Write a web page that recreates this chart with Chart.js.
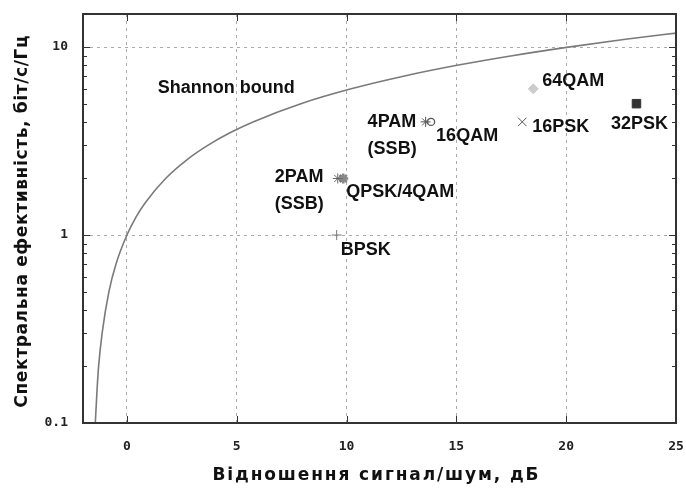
<!DOCTYPE html>
<html>
<head>
<meta charset="utf-8">
<script src="https://cdn.jsdelivr.net/npm/chart.js@4/dist/chart.umd.min.js"></script>
<style>
  html, body { margin: 0; padding: 0; background: #fff; }
  #wrap { width: 686px; height: 488px; }
</style>
</head>
<body>
<div id="wrap"><canvas id="c" width="686" height="488"></canvas></div>
<script>
// ---- data ----
const shannonDb  = [-1.44, -1.36, -1.29, -1.13, -0.82, -0.50, 0.00, 0.42, 0.86, 1.76, 2.70, 3.68, 4.69, 5.74, 7.92, 10.21, 12.59, 15.03, 17.54, 20.10, 22.70, 25.33];
const shannonEff = [0.1, 0.15, 0.2, 0.3, 0.5, 0.7, 1, 1.25, 1.5, 2, 2.5, 3, 3.5, 4, 5, 6, 7, 8, 9, 10, 11, 12];

const modNames = ['BPSK', '2PAM (SSB)', 'QPSK/4QAM', '4PAM (SSB)', '16QAM', '16PSK', '64QAM', '32PSK'];
const modSnr   = [9.55, 9.6, 9.85, 13.6, 13.85, 18.0, 18.5, 23.2];
const modEff   = [1, 2, 2, 4, 4, 4, 6, 5];

const xTicks = [0, 5, 10, 15, 20, 25];
const yTicks = [0.1, 1, 10];
const shannonLabel = 'Shannon bound';
const shannonLabelPos = { x: 1.4, y: 6.05 };

const xTitle = 'Відношення сигнал/шум, дБ';
const yTitle = 'Спектральна ефективність, біт/с/Гц';

// ---- styles ----
const markerStyles = [
  { pointStyle: 'cross',    radius: 5, borderColor: '#777', backgroundColor: '#777', borderWidth: 1 },
  { pointStyle: 'star',     radius: 5, borderColor: '#666', backgroundColor: '#666', borderWidth: 1 },
  { pointStyle: 'star',     radius: 5, borderColor: '#888', backgroundColor: '#888', borderWidth: 2.5 },
  { pointStyle: 'star',     radius: 5, borderColor: '#555', backgroundColor: '#555', borderWidth: 1 },
  { pointStyle: 'circle',   radius: 3.5, borderColor: '#555', backgroundColor: 'rgba(0,0,0,0)', borderWidth: 1.3 },
  { pointStyle: 'crossRot', radius: 6, borderColor: '#555', backgroundColor: '#555', borderWidth: 1 },
  { pointStyle: 'rectRot',  radius: 5, borderColor: '#ccc', backgroundColor: '#ccc', borderWidth: 1 },
  { pointStyle: 'rect',     radius: 6, borderColor: '#333', backgroundColor: '#333', borderWidth: 1 }
];
// label lines & pixel offsets relative to each marker
const labelSpecs = [
  { lines: ['BPSK'],            dx: 4,   dy: 15,  align: 'left' },
  { lines: ['2PAM', '(SSB)'],   dx: -63, dy: -1,  align: 'left' },
  { lines: ['QPSK/4QAM'],       dx: 3,   dy: 14,  align: 'left' },
  { lines: ['4PAM', '(SSB)'],   dx: -58, dy: 0,   align: 'left' },
  { lines: ['16QAM'],           dx: 5,   dy: 14,  align: 'left' },
  { lines: ['16PSK'],           dx: 10,  dy: 5,   align: 'left' },
  { lines: ['64QAM'],           dx: 9,   dy: -8,  align: 'left' },
  { lines: ['32PSK'],           dx: 3,   dy: 20,  align: 'center' }
];
const labelFont = 'bold 18px "Liberation Sans", Arial, sans-serif';
const titleFont = 'bold 17px "DejaVu Sans", "Liberation Sans", sans-serif';
const xTitleWidth = 328, yTitleWidth = 373;
const lineGap = 27;

const datasets = [{
  label: 'Shannon',
  data: shannonDb.map((x, i) => ({ x: x, y: shannonEff[i] })),
  showLine: true,
  borderColor: '#7a7a7a',
  borderWidth: 1.6,
  pointRadius: 0,
  cubicInterpolationMode: 'monotone',
  fill: false
}];
modNames.forEach((n, i) => {
  const s = markerStyles[i];
  datasets.push({
    label: n,
    data: [{ x: modSnr[i], y: modEff[i] }],
    showLine: false,
    pointStyle: s.pointStyle,
    pointRadius: s.radius,
    pointBorderColor: s.borderColor,
    pointBackgroundColor: s.backgroundColor,
    pointBorderWidth: s.borderWidth
  });
});

function spacingFor(ctx, text, target) {
  ctx.letterSpacing = '0px';
  const w = ctx.measureText(text).width;
  return Math.max(0, (target - w) / text.length);
}

const decorPlugin = {
  id: 'decor',
  afterDatasetsDraw(chart) {
    const ctx = chart.ctx;
    const ca = chart.chartArea;
    const xs = chart.scales.x, ys = chart.scales.y;
    ctx.save();
    ctx.strokeStyle = '#333';
    ctx.lineWidth = 1;
    [0.1, 1, 10].forEach(dec => {
      for (let m = 2; m <= 9; m++) {
        const v = dec * m;
        if (v > ys.max) continue;
        const py = Math.round(ys.getPixelForValue(v)) + 0.5;
        ctx.beginPath();
        ctx.moveTo(ca.left, py); ctx.lineTo(ca.left + 4, py);
        ctx.moveTo(ca.right, py); ctx.lineTo(ca.right - 4, py);
        ctx.stroke();
      }
    });
    yTicks.forEach(v => {
      const py = Math.round(ys.getPixelForValue(v)) + 0.5;
      ctx.beginPath();
      ctx.moveTo(ca.left, py); ctx.lineTo(ca.left + 7, py);
      ctx.moveTo(ca.right, py); ctx.lineTo(ca.right - 7, py);
      ctx.stroke();
    });
    xTicks.forEach(v => {
      const px = Math.round(xs.getPixelForValue(v)) + 0.5;
      ctx.beginPath();
      ctx.moveTo(px, ca.bottom); ctx.lineTo(px, ca.bottom - 7);
      ctx.moveTo(px, ca.top); ctx.lineTo(px, ca.top + 7);
      ctx.stroke();
    });
    ctx.strokeStyle = '#333';
    ctx.lineWidth = 2;
    ctx.strokeRect(ca.left, ca.top, ca.right - ca.left, ca.bottom - ca.top);

    ctx.font = labelFont;
    ctx.fillStyle = '#111';
    ctx.textBaseline = 'middle';
    modNames.forEach((n, i) => {
      const spec = labelSpecs[i];
      const px = xs.getPixelForValue(modSnr[i]);
      const py = ys.getPixelForValue(modEff[i]);
      ctx.textAlign = spec.align;
      spec.lines.forEach((t, k) => {
        ctx.fillText(t, px + spec.dx, py + spec.dy + k * lineGap);
      });
    });
    ctx.textAlign = 'left';
    ctx.fillText(shannonLabel, xs.getPixelForValue(shannonLabelPos.x), ys.getPixelForValue(shannonLabelPos.y));

    // axis titles
    ctx.font = titleFont;
    ctx.textAlign = 'center';
    ctx.textBaseline = 'middle';
    const sx = spacingFor(ctx, xTitle, xTitleWidth);
    ctx.letterSpacing = sx + 'px';
    ctx.fillText(xTitle, (ca.left + ca.right) / 2 - 4 + sx / 2, 476);
    const sy = spacingFor(ctx, yTitle, yTitleWidth);
    ctx.letterSpacing = sy + 'px';
    ctx.translate(23, (ca.top + ca.bottom) / 2 + 3);
    ctx.rotate(-Math.PI / 2);
    ctx.fillText(yTitle, sy / 2, 0);
    ctx.restore();
  }
};

const tickFont = { family: '"DejaVu Sans Mono", monospace', weight: 'bold', size: 13 };

new Chart(document.getElementById('c'), {
  type: 'scatter',
  data: { datasets: datasets },
  plugins: [decorPlugin],
  options: {
    responsive: false,
    animation: false,
    devicePixelRatio: 1,
    layout: { padding: { top: 14, right: 10, left: 0, bottom: 0 } },
    plugins: { legend: { display: false }, tooltip: { enabled: false } },
    scales: {
      x: {
        type: 'linear',
        min: -2, max: 25,
        afterBuildTicks: s => { s.ticks = xTicks.map(v => ({ value: v })); },
        afterFit: s => { s.height = 65; s.paddingLeft = 0; s.paddingRight = 0; },
        grid: { color: '#aaa', lineWidth: 1, drawTicks: false },
        border: { display: false, dash: [3, 4] },
        ticks: {
          padding: 16,
          color: '#222',
          font: tickFont,
          callback: v => String(v),
          maxRotation: 0
        },
        title: { display: false }
      },
      y: {
        type: 'logarithmic',
        min: 0.1, max: 15,
        afterBuildTicks: s => { s.ticks = yTicks.map(v => ({ value: v })); },
        afterFit: s => { s.width = 83; s.paddingTop = 0; s.paddingBottom = 0; },
        grid: { color: '#aaa', lineWidth: 1, drawTicks: false },
        border: { display: false, dash: [3, 4] },
        ticks: {
          padding: 15,
          color: '#222',
          font: tickFont,
          callback: v => String(v)
        },
        title: { display: false }
      }
    }
  }
});
</script>
</body>
</html>
